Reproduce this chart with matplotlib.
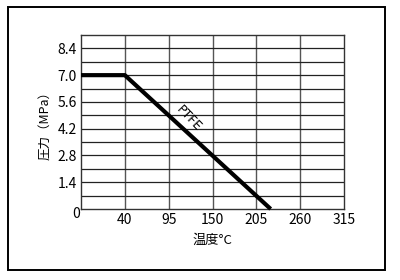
import numpy as np
import matplotlib
matplotlib.use("Agg")
import matplotlib.pyplot as plt
from matplotlib.patches import Rectangle
from matplotlib.transforms import ScaledTranslation

plt.rcParams['font.family'] = ['Noto Sans CJK JP', 'DejaVu Sans']

# data
x_ticks = [0, 40, 95, 150, 205, 260, 315]
x_tick_labels = ["", "40", "95", "150", "205", "260", "315"]
y_ticks = [0, 1.4, 2.8, 4.2, 5.6, 7.0, 8.4]
y_tick_labels = ["0", "1.4", "2.8", "4.2", "5.6", "7.0", "8.4"]
ptfe_temp = [0, 40, 223]
ptfe_pressure = [7.0, 7.0, 0.0]

positions = np.arange(len(x_ticks), dtype=float)

def fwd(x):
    return np.interp(x, x_ticks, positions)

def inv(p):
    return np.interp(p, positions, x_ticks)

fig = plt.figure(figsize=(4, 2.8), dpi=100)
fig.patches.append(Rectangle((8/400, 1 - 270/280), 377/400, 263/280,
                             transform=fig.transFigure, fill=False,
                             edgecolor='black', linewidth=1.4))

ax = fig.add_axes([81/400, 1 - 209/280, 263/400, 174/280])
ax.set_xscale('function', functions=(fwd, inv))
ax.set_xlim(0, 315)
ax.set_ylim(0, 9.1)

# grid
for v in x_ticks[1:-1]:
    ax.axvline(v, color='#555555', linewidth=1.0, zorder=1)
for k in range(1, 13):
    ax.axhline(k * 0.7, color='#222222', linewidth=0.9, zorder=1)

ax.plot(ptfe_temp, ptfe_pressure, color='black', linewidth=3.0,
        solid_capstyle='butt', zorder=3, clip_on=False)

for s in ax.spines.values():
    s.set_color('#333333')
    s.set_linewidth(1.0)

ax.set_xticks(x_ticks)
ax.set_xticklabels(x_tick_labels, fontsize=10)
ax.set_yticks(y_ticks)
ax.set_yticklabels(y_tick_labels, fontsize=10)
ax.tick_params(axis='x', length=0, pad=3)
ax.tick_params(axis='y', length=0, pad=3)
zero_lbl = ax.get_yticklabels()[0]
zero_lbl.set_transform(zero_lbl.get_transform() +
                       ScaledTranslation(3/100, -4/100, fig.dpi_scale_trans))

ax.set_xlabel("温度°C", fontsize=9.5, labelpad=5)
ax.set_ylabel("圧力（MPa）", fontsize=9, labelpad=4)

ax.text(120, 4.75, "PTFE", rotation=-46, fontsize=9, ha='center', va='center',
        family='DejaVu Sans', zorder=4)

fig.savefig("out.png", dpi=100)
